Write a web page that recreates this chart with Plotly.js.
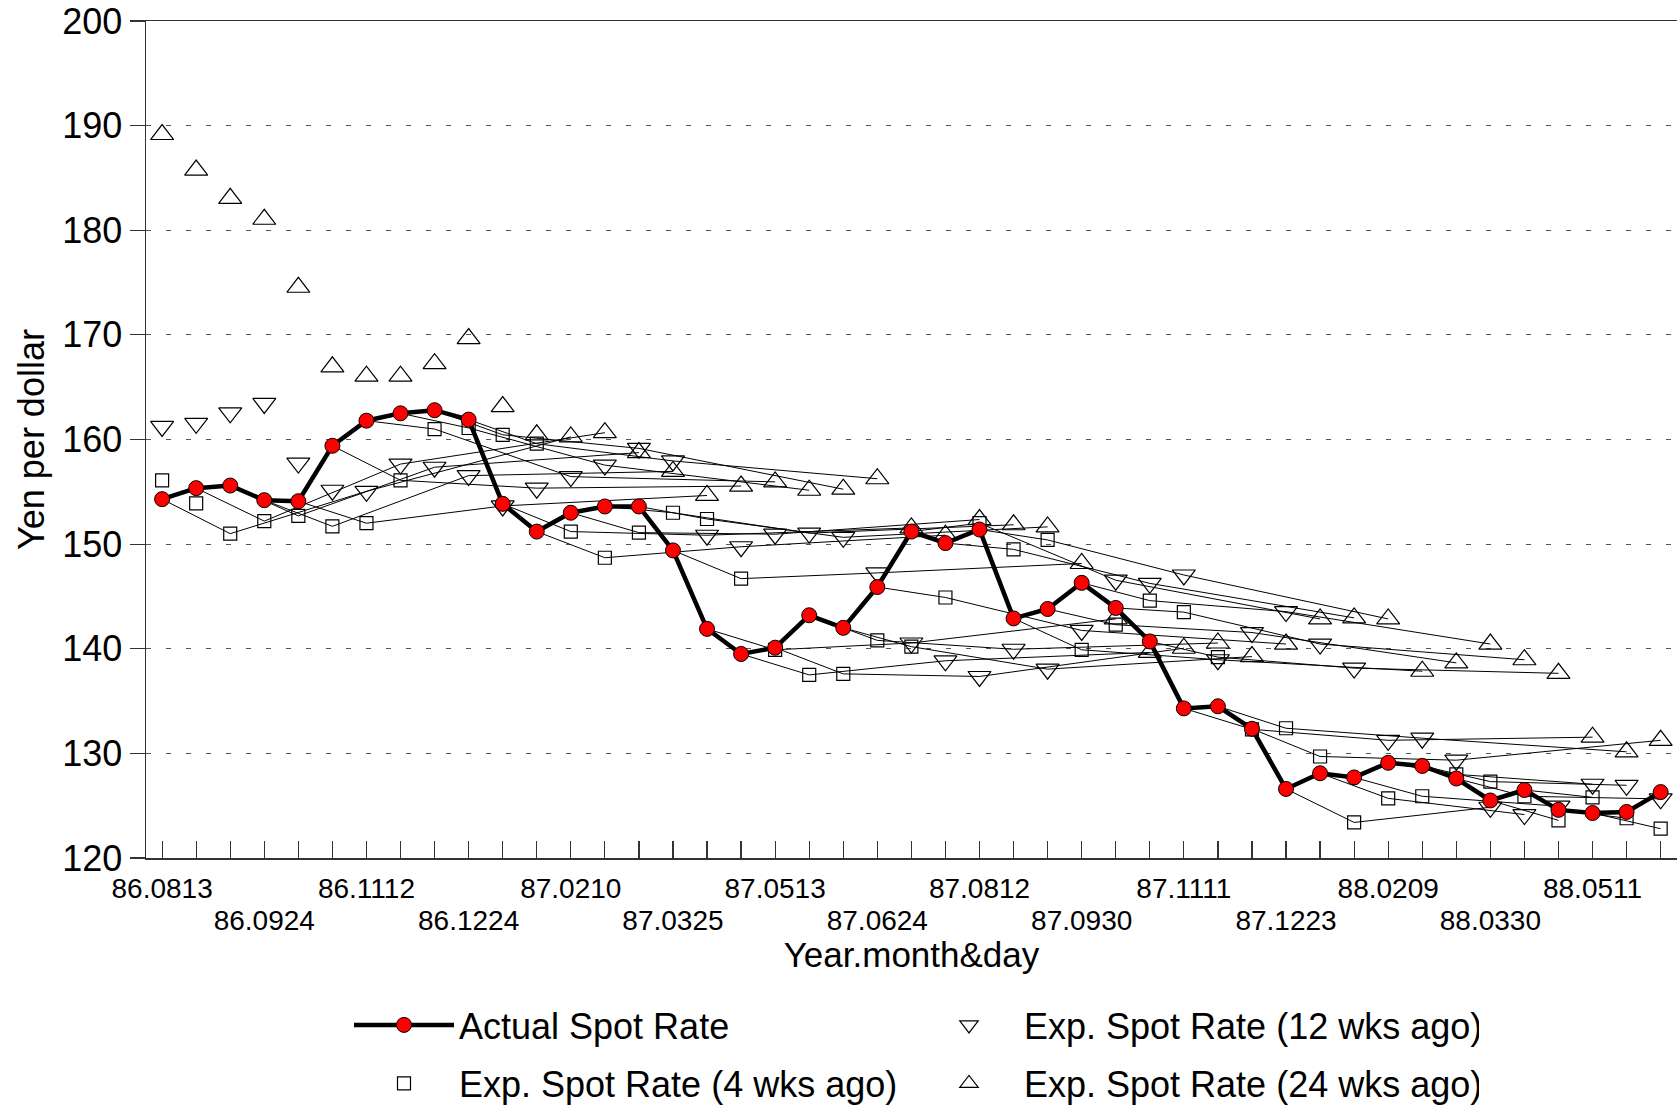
<!DOCTYPE html>
<html>
<head>
<meta charset="utf-8">
<script src="https://cdn.plot.ly/plotly-3.0.1.min.js"></script>
<style>
html,body{margin:0;padding:0;background:#fff;}
#chart{width:1677px;height:1107px;}
</style>
</head>
<body>
<div id="chart"></div>
<script>
// Survey dates labelled on the axis (every 3rd observation, 45 biweekly observations)
const tickLabels = ["86.0813","86.0924","86.1112","86.1224","87.0210","87.0325","87.0513",
  "87.0624","87.0812","87.0930","87.1111","87.1223","88.0209","88.0330","88.0511"];
const labelEvery = 3;

// Actual spot rate (yen per dollar)
const actual = [154.3,155.35,155.6,154.2,154.1,159.4,161.8,162.5,162.8,161.9,
  153.85,151.2,153.0,153.6,153.6,149.4,141.9,139.5,140.1,143.2,
  142.0,145.9,151.2,150.1,151.4,142.9,143.8,146.3,143.9,140.7,
  134.3,134.5,132.35,126.6,128.1,127.7,129.1,128.8,127.6,125.5,
  126.5,124.6,124.3,124.4,126.3];

// Expected spot rate made 4 weeks ago
const exp4 = [156.1,153.9,151.0,152.2,152.7,151.7,152.0,156.1,161.0,161.1,
  160.45,159.6,151.2,148.7,151.1,153.0,152.4,146.7,139.9,137.5,
  137.6,140.8,140.2,144.9,152.0,149.5,150.4,139.9,142.3,144.6,
  143.5,139.2,132.3,132.4,129.7,123.4,125.7,125.9,128.0,127.3,
  125.9,123.6,125.8,123.8,122.8];

// Expected spot rate made 12 weeks ago
const exp12 = [161.25,161.55,162.55,163.45,157.75,155.15,155.05,157.65,157.35,156.55,
  153.65,155.35,156.45,157.55,159.15,157.95,150.85,149.75,150.95,151.05,
  150.65,147.25,140.55,138.85,137.35,139.95,138.05,141.75,146.55,146.25,
  147.05,138.95,141.55,143.55,140.45,138.15,131.25,131.45,129.35,124.85,
  124.15,124.95,127.05,126.95,125.65];

// Expected spot rate made 24 weeks ago
const exp24 = [189.15,185.75,183.05,181.05,174.55,166.95,166.05,166.05,167.25,169.65,
  163.15,160.45,160.25,160.65,158.75,156.95,154.65,155.55,155.95,155.15,
  155.25,156.25,151.55,150.85,152.35,151.85,151.65,148.15,142.85,139.65,
  140.05,140.55,139.25,140.45,142.85,142.95,142.85,137.85,138.65,140.45,
  138.95,137.65,131.55,130.15,131.25];

// Forecast horizons expressed in observations (4, 12, 24 weeks ahead)
const horizons = [2, 6, 12];

const n = actual.length;
const xs = actual.map((_, i) => i);

// Thin lines: each survey date -> its 4, 12, 24 week forecasts
const series = [exp4, exp12, exp24];
const cx = [], cy = [];
for (let t = 0; t < n; t++) {
  if (t + horizons[0] >= n) break;
  cx.push(t); cy.push(actual[t]);
  for (let k = 0; k < horizons.length; k++) {
    const j = t + horizons[k];
    if (j < n) { cx.push(j); cy.push(series[k][j]); }
  }
  cx.push(null); cy.push(null);
}

const font = "Liberation Sans, Arial, Helvetica, sans-serif";
const axisCol = "#333";

const row1Vals = [], row1Text = [], row2Vals = [], row2Text = [];
tickLabels.forEach((lab, k) => {
  const idx = k * labelEvery;
  if (k % 2 === 0) { row1Vals.push(idx); row1Text.push(lab); }
  else { row2Vals.push(idx); row2Text.push(lab); }
});
// every observation gets a tick mark; labels only on row-1 positions
const allTickText = xs.map(i => { const p = row1Vals.indexOf(i); return p >= 0 ? row1Text[p] : ""; });

const traces = [
  {x: cx, y: cy, mode: "lines", line: {color: "#000", width: 1}, showlegend: false, hoverinfo: "skip", connectgaps: false},
  {x: xs, y: exp4, mode: "markers", name: "Exp. Spot Rate (4 wks ago)", legend: "legend2", legendrank: 1,
   marker: {symbol: "square-open", size: 13, color: "#000", line: {width: 1.2, color: "#000"}}},
  {x: xs, y: exp12, mode: "markers", name: "Exp. Spot Rate (12 wks ago)", legend: "legend", legendrank: 2,
   marker: {symbol: "triangle-down-open", size: 20, color: "#000", line: {width: 1.2, color: "#000"}}},
  {x: xs, y: exp24, mode: "markers", name: "Exp. Spot Rate (24 wks ago)", legend: "legend2", legendrank: 2,
   marker: {symbol: "triangle-up-open", size: 20, color: "#000", line: {width: 1.2, color: "#000"}}},
  {x: xs, y: actual, mode: "lines+markers", name: "Actual Spot Rate", legend: "legend", legendrank: 1,
   line: {color: "#000", width: 4.5},
   marker: {symbol: "circle", size: 15, color: "#ff0000", line: {width: 1, color: "#000"}}},
  // invisible carrier so the second label row (xaxis2) is drawn
  {x: row2Vals, y: row2Vals.map(() => null), xaxis: "x2", yaxis: "y", mode: "markers",
   showlegend: false, hoverinfo: "skip", marker: {opacity: 0}}
];

const xRange = [-0.473, 44.48];

const layout = {
  width: 1677, height: 1107,
  paper_bgcolor: "#fff", plot_bgcolor: "#fff",
  margin: {l: 146, r: 0, t: 21, b: 249, autoexpand: false},
  font: {family: font, color: "#000"},
  showlegend: true,
  xaxis: {
    range: xRange, tickmode: "array", tickvals: xs, ticktext: allTickText,
    ticks: "inside", ticklen: 17, tickwidth: 1.2, tickcolor: axisCol,
    showline: true, linecolor: axisCol, linewidth: 1.5, mirror: true,
    showgrid: false, zeroline: false,
    tickfont: {size: 28, family: font, color: "#000"},
    ticklabelstandoff: 5,
    title: {text: "Year.month&day", font: {size: 35, family: font, color: "#000"}, standoff: 39}
  },
  xaxis2: {
    overlaying: "x", anchor: "y", side: "bottom", range: xRange,
    tickmode: "array", tickvals: row2Vals, ticktext: row2Text,
    ticks: "", showline: false, showgrid: false, zeroline: false,
    tickfont: {size: 28, family: font, color: "#000"},
    ticklabelstandoff: 43
  },
  yaxis: {
    range: [120, 200], tickmode: "linear", tick0: 120, dtick: 10,
    ticks: "outside", ticklen: 15, tickwidth: 1.2, tickcolor: axisCol,
    showline: true, linecolor: axisCol, linewidth: 1.5,
    showgrid: true, gridcolor: "#555", gridwidth: 1, griddash: "5px,15px",
    zeroline: false,
    tickfont: {size: 36, family: font, color: "#000"},
    title: {text: "Yen per dollar", font: {size: 36, family: font, color: "#000"}, standoff: 6}
  },
  legend: {
    orientation: "h", xref: "container", yref: "container",
    x: 349 / 1677, xanchor: "left", y: 1 - 1025 / 1107, yanchor: "middle",
    itemwidth: 100, entrywidth: 450, font: {size: 36, family: font, color: "#000"},
    bgcolor: "rgba(0,0,0,0)", traceorder: "normal"
  },
  legend2: {
    orientation: "h", xref: "container", yref: "container",
    x: 349 / 1677, xanchor: "left", y: 1 - 1083.5 / 1107, yanchor: "middle",
    itemwidth: 100, entrywidth: 450, font: {size: 36, family: font, color: "#000"},
    bgcolor: "rgba(0,0,0,0)", traceorder: "normal"
  }
};

Plotly.newPlot("chart", traces, layout, {staticPlot: true, displayModeBar: false});
</script>
</body>
</html>
